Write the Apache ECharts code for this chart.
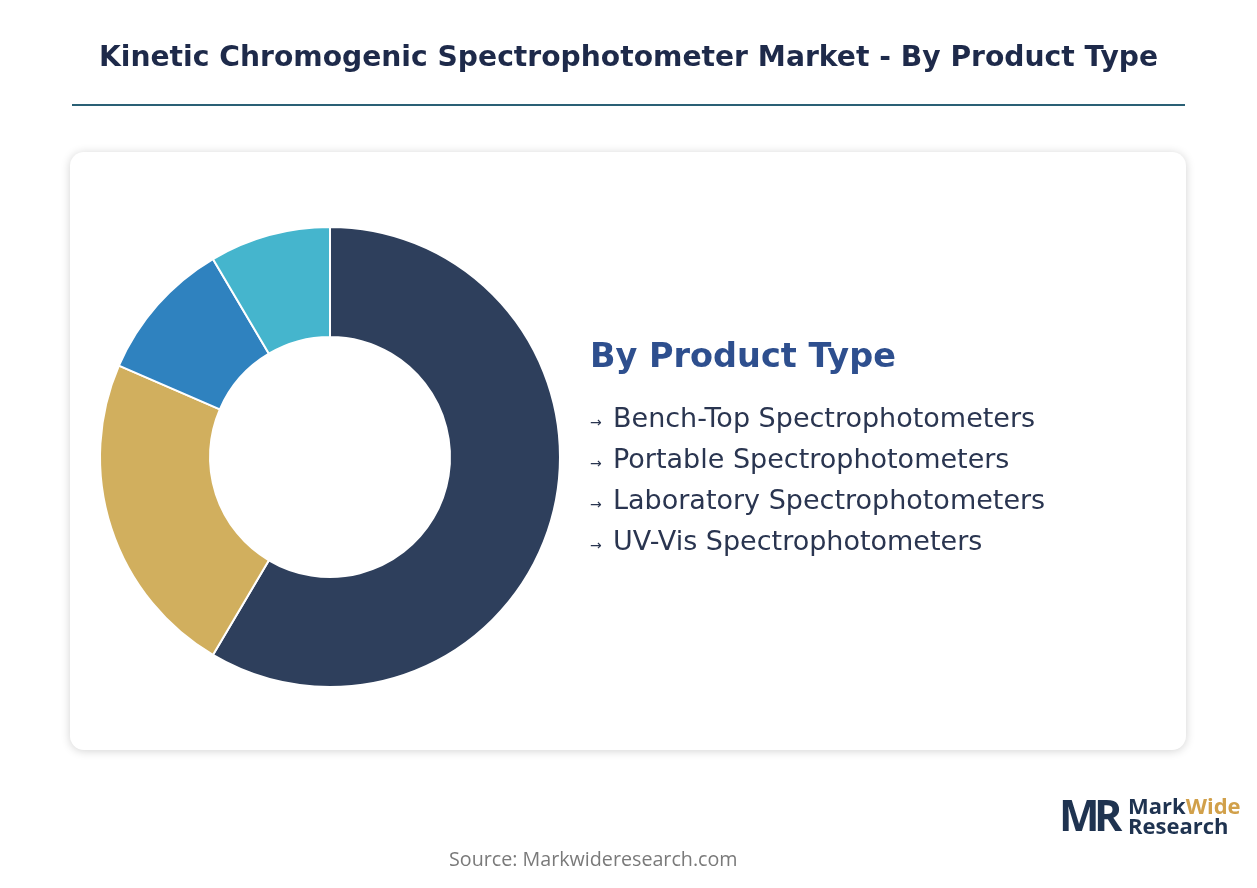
<!DOCTYPE html>
<html>
<head>
<meta charset="utf-8">
<script src="https://cdn.jsdelivr.net/npm/echarts@6/dist/echarts.min.js"></script>
<style>
  html, body { margin: 0; padding: 0; background: #fff; }
  #chart { width: 1257px; height: 888px; }
</style>
</head>
<body>
<div id="chart"></div>
<script>
var myChart = echarts.init(document.getElementById('chart'));

// segments and their shares (%)
var categories = [
  'Bench-Top Spectrophotometers',
  'Portable Spectrophotometers',
  'Laboratory Spectrophotometers',
  'UV-Vis Spectrophotometers'
];
var shares = [58.5, 23.0, 10.0, 8.5];
var colors = ['#2e3f5c', '#d1af5e', '#2f82bf', '#45b5cd'];

var titleText = 'Kinetic Chromogenic Spectrophotometer Market - By Product Type';
var legendTitle = 'By Product Type';
var sourceText = 'Source: Markwideresearch.com';

var font = '"DejaVu Sans", "Open Sans", sans-serif';
var font2 = '"Open Sans", Lato, sans-serif';

var graphics = [
  // card with shadow
  {
    type: 'rect', z: 0,
    shape: { x: 70, y: 152, width: 1116, height: 598, r: 14 },
    style: { fill: '#fff', shadowBlur: 10, shadowColor: 'rgba(0,0,0,0.18)', shadowOffsetY: 1 }
  },
  // title rule
  {
    type: 'rect', z: 1,
    shape: { x: 72, y: 104, width: 1113, height: 2 },
    style: { fill: '#2a6075' }
  },
  {
    type: 'text', z: 2, left: 'center', top: 45,
    style: { text: titleText, fill: '#1e2a4a', font: 'bold 28.2px ' + font }
  },
  {
    type: 'text', z: 2, left: 590, top: 341,
    style: { text: legendTitle, fill: '#2e4f8e', font: 'bold 33.5px ' + font }
  },
  {
    type: 'text', z: 2, left: 449, top: 850,
    style: { text: sourceText, fill: '#7a7a7a', font: '19.7px ' + font2 }
  },
  // logo
  {
    type: 'text', z: 2, left: 1059, top: 797,
    style: { text: 'M', fill: '#1f3350', font: 'bold 43px ' + font2 }
  },
  {
    type: 'text', z: 2, left: 1094, top: 797,
    style: { text: 'R', fill: '#1f3350', font: 'bold 43px ' + font2 }
  },
  {
    type: 'text', z: 2, left: 1128, top: 797,
    style: {
      rich: {
        a: { fill: '#1f3350', font: 'bold 22px ' + font2 },
        b: { fill: '#d1a04a', font: 'bold 22px ' + font2 }
      },
      text: '{a|Mark}{b|Wide}'
    }
  },
  {
    type: 'text', z: 2, left: 1128, top: 817,
    style: { text: 'Research', fill: '#1f3350', font: 'bold 22px ' + font2 }
  }
];

categories.forEach(function (name, i) {
  graphics.push({
    type: 'text', z: 2, left: 590, top: 416 + i * 41,
    style: { text: '\u2192', fill: '#2a3550', font: '14px ' + font }
  });
  graphics.push({
    type: 'text', z: 2, left: 613, top: 406 + i * 41,
    style: { text: name, fill: '#2a3550', font: '27px ' + font }
  });
});

var option = {
  backgroundColor: '#fff',
  animation: false,
  graphic: graphics,
  series: [{
    type: 'pie',
    z: 5,
    center: [330, 457],
    radius: [120, 230],
    startAngle: 90,
    clockwise: true,
    label: { show: false },
    labelLine: { show: false },
    itemStyle: { borderColor: '#fff', borderWidth: 2 },
    data: categories.map(function (name, i) {
      return { name: name, value: shares[i], itemStyle: { color: colors[i] } };
    })
  }]
};

myChart.setOption(option);
</script>
</body>
</html>
